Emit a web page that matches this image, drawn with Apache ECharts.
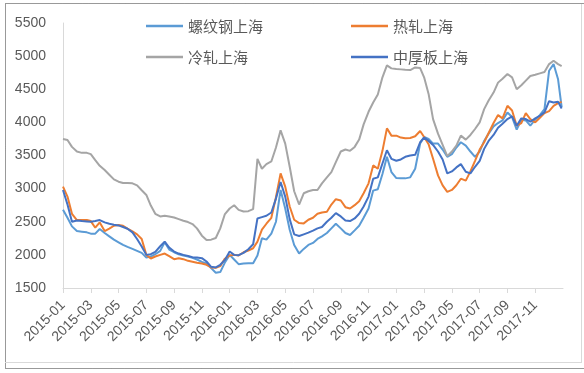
<!DOCTYPE html>
<html><head><meta charset="utf-8">
<script src="https://cdn.jsdelivr.net/npm/echarts@6/dist/echarts.min.js"></script>
<style>html,body{margin:0;padding:0;background:#fff}#c{width:584px;height:373px}</style>
</head><body><div id="c"></div>
<script>
const dates = [
'2015-01-01','2015-01-11','2015-01-21','2015-02-01','2015-02-11','2015-02-21','2015-03-01','2015-03-11','2015-03-21','2015-04-01','2015-04-11','2015-04-21',
'2015-05-01','2015-05-11','2015-05-21','2015-06-01','2015-06-11','2015-06-21','2015-07-01','2015-07-11','2015-07-21','2015-08-01','2015-08-11','2015-08-21',
'2015-09-01','2015-09-11','2015-09-21','2015-10-01','2015-10-11','2015-10-21','2015-11-01','2015-11-11','2015-11-21','2015-12-01','2015-12-11','2015-12-21',
'2016-01-01','2016-01-11','2016-01-21','2016-02-01','2016-02-11','2016-02-21','2016-03-01','2016-03-11','2016-03-21','2016-04-01','2016-04-11','2016-04-21',
'2016-05-01','2016-05-11','2016-05-21','2016-06-01','2016-06-11','2016-06-21','2016-07-01','2016-07-11','2016-07-21','2016-08-01','2016-08-11','2016-08-21',
'2016-09-01','2016-09-11','2016-09-21','2016-10-01','2016-10-11','2016-10-21','2016-11-01','2016-11-11','2016-11-21','2016-12-01','2016-12-11','2016-12-21',
'2017-01-01','2017-01-11','2017-01-21','2017-02-01','2017-02-11','2017-02-21','2017-03-01','2017-03-11','2017-03-21','2017-04-01','2017-04-11','2017-04-21',
'2017-05-01','2017-05-11','2017-05-21','2017-06-01','2017-06-11','2017-06-21','2017-07-01','2017-07-11','2017-07-21','2017-08-01','2017-08-11','2017-08-21',
'2017-09-01','2017-09-11','2017-09-21','2017-10-01','2017-10-11','2017-10-21','2017-11-01','2017-11-11','2017-11-21','2017-12-01','2017-12-11','2017-12-21',
'2017-12-29'];

const rebar = [2680,2560,2430,2360,2350,2340,2320,2320,2390,2330,
2280,2230,2190,2150,2120,2090,2060,2030,1960,1975,
2010,2060,2190,2080,2040,2010,1990,1975,1955,1930,
1895,1870,1800,1730,1740,1880,2000,1930,1860,1870,
1875,1875,1990,2250,2230,2320,2500,2980,2700,2380,
2150,2020,2090,2150,2180,2240,2280,2330,2400,2470,
2400,2330,2300,2370,2440,2560,2700,2970,2990,3220,
3480,3250,3160,3155,3155,3170,3300,3680,3780,3750,
3680,3680,3590,3480,3520,3620,3700,3650,3560,3480,
3560,3720,3830,3940,3990,4030,4150,4080,3890,4040,
4030,3950,4040,4110,4200,4780,4880,4650,4230];

const hotRolled = [3030,2880,2620,2525,2525,2525,2510,2410,2490,2360,
2395,2440,2450,2440,2395,2355,2310,2240,2000,1945,
1975,2000,2020,1980,1935,1950,1935,1910,1895,1880,
1870,1850,1810,1805,1830,1940,1990,2000,1990,2040,
2065,2100,2200,2380,2470,2560,2870,3230,3030,2730,
2530,2480,2475,2530,2560,2620,2640,2650,2760,2840,
2820,2720,2700,2750,2810,2930,3080,3350,3300,3570,
3910,3800,3800,3770,3760,3765,3790,3870,3780,3670,
3450,3200,3050,2950,2980,3050,3150,3120,3260,3420,
3590,3700,3840,3990,4110,4060,4250,4180,3950,3990,
4140,4050,4000,4070,4140,4170,4250,4290,4310];

const coldRolled = [3750,3735,3630,3560,3540,3540,3520,3430,3345,3280,
3210,3140,3105,3085,3085,3080,3050,2975,2905,2745,
2620,2580,2590,2580,2565,2540,2515,2495,2465,2400,
2290,2225,2230,2255,2400,2610,2700,2750,2680,2655,
2660,2690,3450,3300,3370,3410,3620,3880,3680,3330,
2960,2760,2930,2960,2980,2980,3080,3170,3250,3400,
3560,3590,3570,3630,3740,3970,4160,4300,4420,4680,
4860,4815,4805,4800,4795,4790,4830,4820,4680,4430,
4050,3830,3660,3490,3560,3650,3800,3740,3810,3900,
4000,4200,4330,4450,4600,4660,4730,4680,4500,4560,
4630,4700,4720,4740,4760,4880,4930,4880,4850];

const plate = [2980,2760,2500,2520,2510,2505,2500,2510,2525,2490,
2470,2455,2445,2420,2395,2340,2240,2125,2000,2010,
2045,2130,2200,2110,2050,2020,2000,1985,1965,1960,
1950,1900,1820,1810,1850,1920,2050,2000,1995,2030,
2085,2160,2550,2570,2590,2640,2850,3100,2880,2540,
2310,2285,2310,2335,2365,2400,2420,2500,2560,2630,
2580,2520,2510,2550,2620,2730,2880,3150,3170,3380,
3580,3450,3420,3440,3480,3500,3510,3700,3770,3720,
3660,3560,3440,3230,3260,3320,3370,3255,3230,3330,
3420,3600,3720,3810,3920,3980,4050,4090,3950,4060,
4050,4010,4060,4100,4150,4320,4300,4310,4210];

const seriesNames = ['螺纹钢上海','热轧上海','冷轧上海','中厚板上海'];
const seriesColors = ['#5B9BD5','#ED7D31','#A5A5A5','#4472C4'];
const seriesValues = [rebar, hotRolled, coldRolled, plate];
const yTicks = {min:1500, max:5500, step:500};
const startYear = 2015;

function monthIndex(s){
  const [y,m,d] = s.split('-').map(Number);
  const dim = new Date(y, m, 0).getDate();
  return (y-startYear)*12 + (m-1) + (d-1)/dim;
}
const xs = dates.map(monthIndex);
const xMax = monthIndex('2017-12-31') + 1/31;

const chart = echarts.init(document.getElementById('c'), null, {renderer:'canvas'});
const labelFont = 'Liberation Sans';
chart.setOption({
  animation:false,
  backgroundColor:'#fff',
  graphic:[
    {type:'rect', silent:true, shape:{x:5.5,y:3.5,width:640,height:365}, style:{fill:'none',stroke:'#333',lineWidth:1,lineDash:[1,1]}},
    {type:'line', silent:true, shape:{x1:5,y1:362.5,x2:582,y2:362.5}, style:{stroke:'#D9D9D9',lineWidth:1}},
    {type:'line', silent:true, shape:{x1:581.5,y1:4,x2:581.5,y2:362}, style:{stroke:'#D9D9D9',lineWidth:1}}
  ],
  legend:[
    {left:141, top:13, orient:'vertical', itemGap:15, itemWidth:37, itemHeight:2.5, icon:'rect',
     textStyle:{fontSize:15, color:'#595959', fontFamily:'Noto Sans CJK SC', lineHeight:16},
     data:[seriesNames[0], seriesNames[2]]},
    {left:346, top:13, orient:'vertical', itemGap:15, itemWidth:37, itemHeight:2.5, icon:'rect',
     textStyle:{fontSize:15, color:'#595959', fontFamily:'Noto Sans CJK SC', lineHeight:16},
     data:[seriesNames[1], seriesNames[3]]}
  ],
  grid:{left:63, right:21, top:23, bottom:85, containLabel:false},
  xAxis:{
    type:'value', min:0, max:xMax, interval:2,
    axisLine:{show:true, lineStyle:{color:'#D9D9D9', width:1}},
    axisTick:{show:true, length:5, lineStyle:{color:'#D9D9D9'}},
    splitLine:{show:false},
    axisLabel:{rotate:45, margin:15, fontSize:14, color:'#595959', fontFamily:labelFont, showMaxLabel:false,
      formatter:function(v){
        if (Math.abs(v-Math.round(v))>1e-6) return '';
        const r=Math.round(v); if (r%2) return '';
        const y=startYear+Math.floor(r/12), m=r%12+1;
        return y+'-'+(m<10?'0':'')+m;
      }}
  },
  yAxis:{
    type:'value', min:yTicks.min, max:yTicks.max, interval:yTicks.step,
    axisLine:{show:true, lineStyle:{color:'#D9D9D9', width:1}},
    axisTick:{show:false},
    splitLine:{show:false},
    axisLabel:{margin:17, fontSize:14, color:'#595959', fontFamily:labelFont,
      formatter:function(v){ return String(v); }}
  },
  series: seriesNames.map((n,i)=>({
    name:n, type:'line', showSymbol:false, symbol:'none',
    color:seriesColors[i],
    lineStyle:{width:2, color:seriesColors[i]},
    data: xs.map((x,j)=>[x, seriesValues[i][j]])
  }))
});
</script></body></html>
